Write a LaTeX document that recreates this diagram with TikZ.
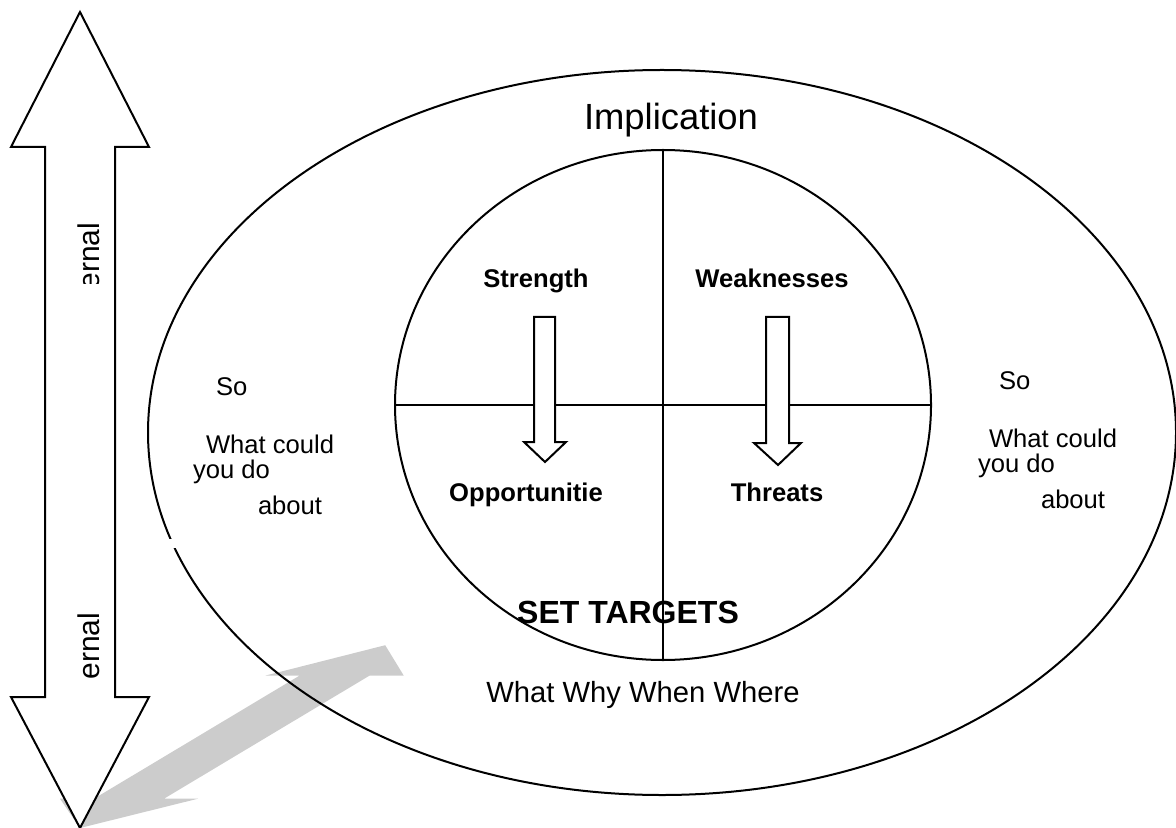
\documentclass[tikz,border=0pt]{standalone}
\usepackage{fontspec}
\setmainfont{Liberation Sans}
\definecolor{shadowgray}{RGB}{204,204,204}
\begin{document}
\begin{tikzpicture}[x=0.5pt,y=-0.5pt,line width=1pt,
  blockarrow/.style={draw=black,fill=white,line width=1pt,line join=miter},
  plain/.style={font=\fontsize{12.8}{14}\selectfont,inner sep=0pt},
  boldlabel/.style={font=\bfseries\fontsize{12.8}{15}\selectfont,inner sep=0pt},
  sidelabel/.style={font=\fontsize{15}{17}\selectfont,inner sep=0pt}]
\useasboundingbox (0,0) rectangle (1176,828);

% shadow of the double arrow
\fill[shadowgray] (385.2,645.2) -- (403.7,675.5) -- (369.7,675.5) -- (164,798.7) -- (198,798.7)
  -- (80,828) -- (60,798.7) -- (94,798.7) -- (299.7,675.5) -- (265.7,675.5) -- cycle;

% outer ellipse
\coordinate (oc) at (662,432.5);
\draw (oc) ellipse [x radius=514, y radius=362.5];
\fill[white] (162,539) rectangle (176,548);

% inner circle with quadrants
\coordinate (ic) at (663,405);
\coordinate (itop) at (663,150);
\coordinate (ibot) at (663,660);
\coordinate (ileft) at (395,405);
\coordinate (iright) at (931,405);
\draw (ic) ellipse [x radius=268, y radius=255];
\draw (itop) -- (ibot);
\draw (ileft) -- (iright);

% big double arrow
\draw[blockarrow] (80,12) -- (149,147) -- (115,147) -- (115,697) -- (149,697) -- (80,828)
  -- (11,697) -- (45,697) -- (45,147) -- (11,147) -- cycle;

% inner block arrows
\draw[blockarrow] (534,317) -- (555,317) -- (555,442) -- (566,442) -- (545,462) -- (524,442) -- (534,442) -- cycle;
\draw[blockarrow] (766,317) -- (789,317) -- (789,443) -- (801,443) -- (778,465) -- (754,443) -- (766,443) -- cycle;

% rotated labels
\begin{scope}
\clip (50,200) rectangle (115,284);
\node[sidelabel,rotate=90] (intl) at (89,256) {ernal};
\end{scope}
\node[sidelabel,rotate=90] (extl) at (89,646) {ernal};

% texts
\node[font=\fontsize{18.2}{20}\selectfont,inner sep=0pt,anchor=base] (impl) at (671,130) {Implication};
\node[boldlabel,anchor=base] (str) at (536,288) {Strength};
\node[boldlabel,anchor=base] (weak) at (772,288) {Weaknesses};
\node[boldlabel,anchor=base] (opp) at (526,501) {Opportunitie};
\node[boldlabel,anchor=base] (thr) at (777,501) {Threats};
\node[font=\bfseries\fontsize{16}{18}\selectfont,inner sep=0pt,anchor=base] (set) at (628,623) {SET TARGETS};
\node[font=\fontsize{14.6}{17}\selectfont,inner sep=0pt,anchor=base] (www) at (643,702) {What Why When Where};

\node[plain,anchor=base west] (lso) at (215,395) {So};
\node[plain,anchor=base west] (lwhat) at (205,453) {What could};
\node[plain,anchor=base west] (lyou) at (192,478) {you do};
\node[plain,anchor=base west] (lab) at (257,514) {about};

\node[plain,anchor=base west] (rso) at (998,389) {So};
\node[plain,anchor=base west] (rwhat) at (988,447) {What could};
\node[plain,anchor=base west] (ryou) at (977,472) {you do};
\node[plain,anchor=base west] (rab) at (1040,508) {about};
\end{tikzpicture}
\end{document}
